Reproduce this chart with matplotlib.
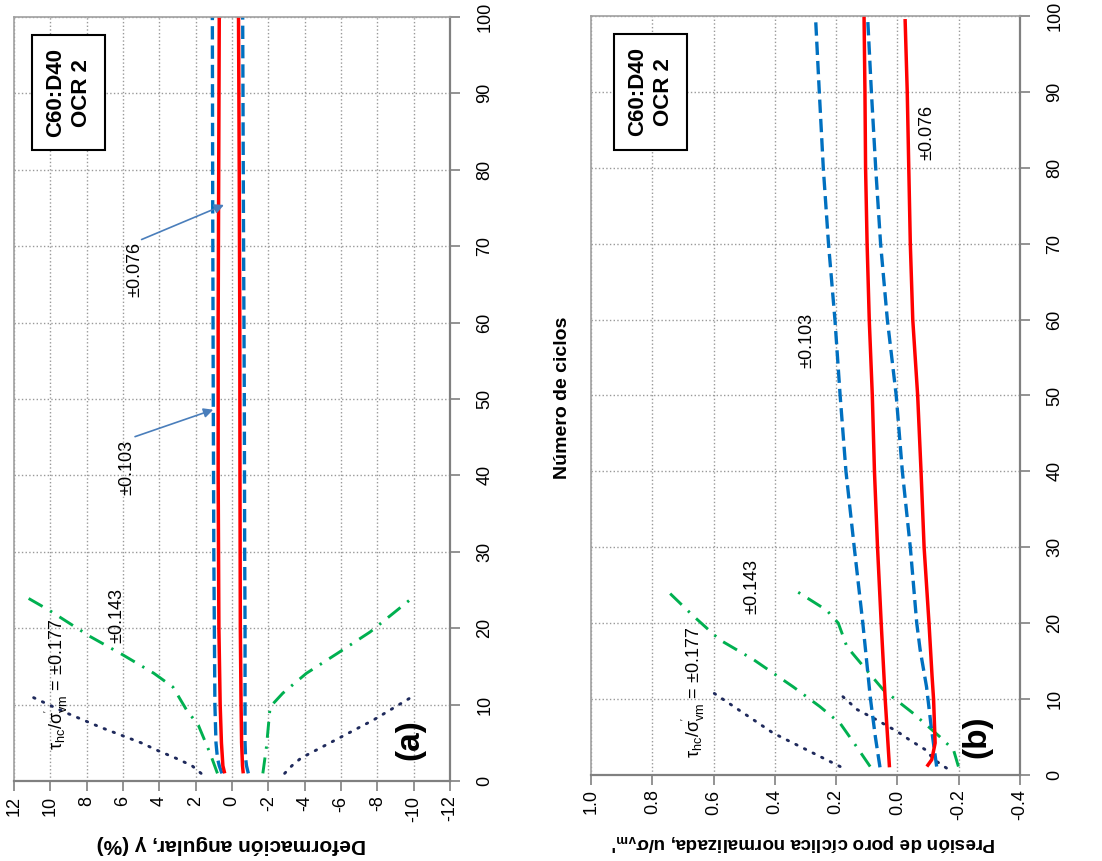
import matplotlib.pyplot as plt

plt.rcParams['font.family'] = ['Liberation Sans', 'DejaVu Sans']
plt.rcParams['mathtext.default'] = 'regular'

# ---- (a) deformacion angular (%) vs numero de ciclos ----
ciclos_a_177_pos = [1, 2, 3, 4, 5, 6, 7, 8, 9, 10, 11]
gamma_177_pos = [1.7, 2.2, 3.1, 4.1, 5.0, 6.1, 7.2, 8.2, 9.2, 10.1, 11.0]
ciclos_a_177_neg = [1, 2, 3, 4, 5, 6, 7, 8, 9, 10, 11]
gamma_177_neg = [-2.9, -3.3, -3.8, -4.6, -5.4, -6.2, -7.0, -7.8, -8.5, -9.2, -9.9]

ciclos_a_143_pos = [1, 3.6, 7.3, 9.3, 12.3, 14.1, 16.5, 18.9, 22.4, 23.9]
gamma_143_pos = [0.8, 1.2, 1.85, 2.5, 3.25, 4.3, 6.0, 7.8, 10.1, 11.2]
ciclos_a_143_neg = [1, 4.5, 9.7, 11.5, 14.1, 16.7, 19.5, 24.1]
gamma_143_neg = [-1.7, -1.9, -2.1, -2.8, -4.1, -5.8, -7.6, -10.0]

ciclos_a_103 = [1, 2, 3, 5, 10, 20, 30, 50, 75, 100]
gamma_103_pos = [0.55, 0.7, 0.8, 0.88, 0.94, 0.97, 1.0, 1.03, 1.06, 1.08]
gamma_103_neg = [-0.9, -0.8, -0.75, -0.72, -0.72, -0.72, -0.7, -0.68, -0.63, -0.59]

ciclos_a_076 = [1, 2, 5, 10, 20, 40, 60, 80, 100]
gamma_076_pos = [0.4, 0.5, 0.58, 0.65, 0.72, 0.76, 0.76, 0.73, 0.7]
gamma_076_neg = [-0.62, -0.58, -0.53, -0.5, -0.46, -0.44, -0.43, -0.4, -0.36]

# ---- (b) presion de poro ciclica normalizada vs numero de ciclos ----
ciclos_b_177_pos = [1.1, 5.5, 10.8]
u_177_pos = [0.187, 0.405, 0.60]
ciclos_b_177_neg = [0.9, 2, 3.3, 4.6, 5.7, 7.3, 8.6, 11]
u_177_neg = [-0.16, -0.12, -0.092, -0.04, 0.0, 0.07, 0.131, 0.197]

ciclos_b_143_pos = [1.1, 3.7, 6.8, 9, 11.6, 15.2, 17.8, 20.9, 23.9]
u_143_pos = [0.089, 0.133, 0.187, 0.253, 0.34, 0.47, 0.58, 0.665, 0.742]
ciclos_b_143_neg = [1.1, 3.3, 5, 8.1, 11.2, 14.3, 16.9, 20, 21.7, 24.2]
u_143_neg = [-0.199, -0.183, -0.139, -0.052, 0.046, 0.111, 0.165, 0.193, 0.231, 0.329]

ciclos_b_103_pos = [1, 5, 10, 20, 30, 40, 50, 60, 70, 80, 90, 99.6]
u_103_pos = [0.057, 0.072, 0.088, 0.113, 0.141, 0.168, 0.187, 0.204, 0.225, 0.242,
             0.255, 0.267]
ciclos_b_103_neg = [1.1, 6.4, 11.6, 16.5, 20, 30, 40, 50, 60, 70, 80, 90, 99.6]
u_103_neg = [-0.128, -0.11, -0.095, -0.074, -0.063, -0.042, -0.016, 0.004, 0.033,
             0.055, 0.071, 0.085, 0.097]

ciclos_b_076_pos = [1, 10, 20, 30, 40, 50, 60, 70, 80, 90, 100]
u_076_pos = [0.026, 0.04, 0.053, 0.065, 0.075, 0.082, 0.092, 0.099, 0.104, 0.106, 0.109]
ciclos_b_076_neg = [1.1, 2, 4.2, 9.9, 13, 20, 30, 40, 50, 60, 70, 80, 90, 99.6]
u_076_neg = [-0.096, -0.112, -0.123, -0.118, -0.113, -0.103, -0.087, -0.077, -0.066,
             -0.05, -0.042, -0.037, -0.032, -0.025]

gamma_ticks = [12, 10, 8, 6, 4, 2, 0, -2, -4, -6, -8, -10, -12]
u_ticks = [1.0, 0.8, 0.6, 0.4, 0.2, 0.0, -0.2, -0.4]
ciclos_ticks = [0, 10, 20, 30, 40, 50, 60, 70, 80, 90, 100]

RED = '#FF0000'
BLUE = '#0070C0'
GREEN = '#00B050'
NAVY = '#1F2A5C'
ARROW = '#4A7EBB'

TAU_LABEL = "τ$_{hc}$/σ$_{vm}^{'}$ = ±0.177"


def style_axis(ax, xticks, xlabels):
    ax.set_xlim(xticks[0], xticks[-1])
    ax.set_ylim(0, 100)
    ax.set_xticks(xticks)
    ax.set_xticklabels(xlabels, rotation=90, fontsize=13)
    ax.set_yticks(ciclos_ticks)
    ax.yaxis.tick_right()
    ax.set_yticklabels([str(c) for c in ciclos_ticks], rotation=90,
                       va='center', ha='left', fontsize=13)
    ax.tick_params(axis='y', direction='out', length=7, width=1.2,
                   color='#808080', pad=12)
    ax.tick_params(axis='x', direction='out', length=7, width=1.2,
                   color='#808080', pad=3.5)
    ax.grid(True, linestyle=':', color='#999999', linewidth=1.0)
    ax.set_axisbelow(True)
    for side in ['right', 'bottom']:
        ax.spines[side].set_color('#808080')
        ax.spines[side].set_linewidth(1.6)
    for side in ['left', 'top']:
        ax.spines[side].set_color('#A0A0A0')
        ax.spines[side].set_linewidth(1.2)


def draw(ax, xs, ys, kind):
    if kind == 'red':
        ax.plot(xs, ys, color=RED, lw=2.5, solid_capstyle='butt')
    elif kind == 'blue':
        ax.plot(xs, ys, color=BLUE, lw=2.4, linestyle=(0, (4, 1.8)))
    elif kind == 'green':
        ax.plot(xs, ys, color=GREEN, lw=2.1, linestyle=(0, (5.5, 3, 0.8, 3)))
    else:
        ax.plot(xs, ys, color=NAVY, lw=2.1, linestyle=(0, (0.5, 2.8)),
                dash_capstyle='round')


fig = plt.figure(figsize=(11.02, 8.61), dpi=100)
ax_a = fig.add_axes([0.0127, 0.0929, 0.3956, 0.8874])
ax_b = fig.add_axes([0.5363, 0.1000, 0.3893, 0.8814])

# panel (a)
draw(ax_a, gamma_177_pos, ciclos_a_177_pos, 'navy')
draw(ax_a, gamma_177_neg, ciclos_a_177_neg, 'navy')
draw(ax_a, gamma_143_pos, ciclos_a_143_pos, 'green')
draw(ax_a, gamma_143_neg, ciclos_a_143_neg, 'green')
draw(ax_a, gamma_103_pos, ciclos_a_103, 'blue')
draw(ax_a, gamma_103_neg, ciclos_a_103, 'blue')
draw(ax_a, gamma_076_pos, ciclos_a_076, 'red')
draw(ax_a, gamma_076_neg, ciclos_a_076, 'red')
style_axis(ax_a, gamma_ticks, [str(g) for g in gamma_ticks])

ax_a.text(9.65, 12.6, TAU_LABEL, rotation=90, ha='center', va='center', fontsize=13)
ax_a.text(6.33, 21.6, '±0.143', rotation=90, ha='center', va='center', fontsize=13)
ax_a.annotate('±0.103', xy=(1.03, 48.6), xytext=(5.78, 41.1), rotation=90,
              ha='center', va='center', fontsize=13,
              arrowprops=dict(arrowstyle='-|>', color=ARROW, lw=1.2,
                              mutation_scale=14, shrinkA=0, shrinkB=0,
                              relpos=(0.5, 1.0)))
ax_a.annotate('±0.076', xy=(0.44, 75.4), xytext=(5.34, 66.9), rotation=90,
              ha='center', va='center', fontsize=13,
              arrowprops=dict(arrowstyle='-|>', color=ARROW, lw=1.2,
                              mutation_scale=14, shrinkA=0, shrinkB=0,
                              relpos=(0.5, 1.0)))
ax_a.text(-9.8, 5.4, '(a)', rotation=90, ha='center', va='center',
          fontsize=24, fontweight='bold')
ax_a.text(9.0, 90.1, 'C60:D40\nOCR 2', rotation=90, ha='center', va='center',
          fontsize=16, fontweight='bold', linespacing=1.3,
          bbox=dict(boxstyle='square,pad=0.6', fc='white', ec='black', lw=1.5))

# panel (b)
draw(ax_b, u_177_pos, ciclos_b_177_pos, 'navy')
draw(ax_b, u_177_neg, ciclos_b_177_neg, 'navy')
draw(ax_b, u_143_pos, ciclos_b_143_pos, 'green')
draw(ax_b, u_143_neg, ciclos_b_143_neg, 'green')
draw(ax_b, u_103_pos, ciclos_b_103_pos, 'blue')
draw(ax_b, u_103_neg, ciclos_b_103_neg, 'blue')
draw(ax_b, u_076_pos, ciclos_b_076_pos, 'red')
draw(ax_b, u_076_neg, ciclos_b_076_neg, 'red')
style_axis(ax_b, u_ticks, ['%.1f' % u for u in u_ticks])

ax_b.text(0.667, 10.9, TAU_LABEL, rotation=90, ha='center', va='center', fontsize=13)
ax_b.text(0.475, 24.8, '±0.143', rotation=90, ha='center', va='center', fontsize=13)
ax_b.text(0.295, 57.2, '±0.103', rotation=90, ha='center', va='center', fontsize=13)
ax_b.text(-0.096, 84.6, '±0.076', rotation=90, ha='center', va='center', fontsize=13)
ax_b.text(-0.26, 5.0, '(b)', rotation=90, ha='center', va='center',
          fontsize=24, fontweight='bold')
ax_b.text(0.806, 90.0, 'C60:D40\nOCR 2', rotation=90, ha='center', va='center',
          fontsize=16, fontweight='bold', linespacing=1.3,
          bbox=dict(boxstyle='square,pad=0.6', fc='white', ec='black', lw=1.5))

# axis titles
fig.text(0.51, 0.538, 'Número de ciclos', rotation=90, ha='center', va='center',
         fontsize=14, fontweight='bold')
fig.text(0.2102, 0.019, 'Deformación angular, γ (%)', rotation=180,
         ha='center', va='center', fontsize=15, fontweight='bold')
fig.text(0.7296, 0.021, "Presión de poro cíclica normalizada, u/σ$_{vm}$'",
         rotation=180, ha='center', va='center', fontsize=13.5, fontweight='bold')

fig.savefig('out.png', dpi=100)
